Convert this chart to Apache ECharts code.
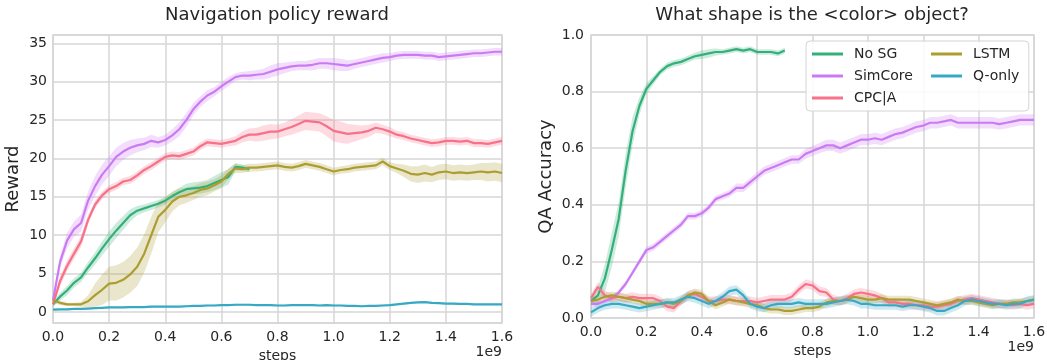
<!DOCTYPE html>
<html>
<head>
<meta charset="utf-8">
<script src="https://cdn.jsdelivr.net/npm/echarts@6/dist/echarts.min.js"></script>
<style>
  html, body { margin: 0; padding: 0; background: #fff; }
  #main { width: 1047px; height: 360px; }
</style>
</head>
<body>
<div id="main"></div>
<script>
// x positions, in units of 1e9 steps (one sample every 0.025)
const steps = Array.from({length: 65}, (_, i) => +(i * 0.025).toFixed(3));
const stepsNoSG = steps.slice(0, 29); // No SG run stops at ~0.7e9

const xTicks = ['0.0', '0.2', '0.4', '0.6', '0.8', '1.0', '1.2', '1.4', '1.6'];

// ---- left: Navigation policy reward ----
const navSimCore = [
  1.5, 6.5, 9.3, 10.8, 11.6, 14.5, 16.4, 17.9, 19.0, 20.2,
  20.9, 21.4, 21.7, 21.9, 22.3, 22.1, 22.4, 23.0, 23.8, 25.0,
  26.4, 27.4, 28.2, 28.7, 29.4, 30.0, 30.6, 30.8, 30.8, 30.9,
  31.0, 31.3, 31.6, 31.8, 32.0, 32.1, 32.1, 32.2, 32.4, 32.4,
  32.3, 32.2, 32.1, 32.3, 32.5, 32.7, 32.9, 33.1, 33.2, 33.4,
  33.5, 33.5, 33.5, 33.4, 33.4, 33.2, 33.3, 33.4, 33.5, 33.6,
  33.7, 33.7, 33.8, 33.9, 33.9
];
const navSimCoreBand = [
  0.5, 0.8, 1.0, 1.0, 1.1, 1.2, 1.3, 1.3, 1.3, 1.2,
  1.1, 1.0, 0.9, 0.8, 0.8, 0.7, 0.7, 0.8, 0.9, 0.9,
  0.8, 0.7, 0.7, 0.6, 0.6, 0.6, 0.5, 0.5, 0.6, 0.6,
  0.7, 0.8, 0.8, 0.7, 0.6, 0.6, 0.6, 0.7, 0.7, 0.7,
  0.8, 0.8, 0.7, 0.6, 0.6, 0.6, 0.6, 0.6, 0.5, 0.5,
  0.5, 0.5, 0.5, 0.5, 0.5, 0.5, 0.5, 0.5, 0.5, 0.5,
  0.5, 0.5, 0.5, 0.5, 0.5
];
const navCPC = [
  1.0, 4.0, 6.0, 7.6, 9.2, 12.0, 14.0, 15.2, 16.0, 16.4,
  17.0, 17.2, 17.8, 18.5, 19.0, 19.6, 20.2, 20.4, 20.3, 20.6,
  20.9, 21.6, 22.1, 22.0, 21.9, 22.1, 22.3, 22.8, 23.1, 23.1,
  23.3, 23.5, 23.5, 23.8, 24.1, 24.5, 24.9, 24.8, 24.7, 24.2,
  23.6, 23.4, 23.2, 23.3, 23.4, 23.6, 24.0, 23.8, 23.5, 23.1,
  22.9, 22.6, 22.4, 22.2, 22.0, 22.1, 22.3, 22.3, 22.2, 22.3,
  22.0, 22.0, 21.9, 22.1, 22.3
];
const navCPCBand = [
  0.4, 0.6, 0.7, 0.7, 0.7, 0.6, 0.5, 0.5, 0.5, 0.5,
  0.5, 0.5, 0.5, 0.5, 0.5, 0.5, 0.5, 0.5, 0.5, 0.5,
  0.5, 0.5, 0.5, 0.5, 0.5, 0.5, 0.6, 0.7, 0.8, 0.9,
  1.0, 1.0, 0.9, 0.9, 1.0, 1.1, 1.2, 1.2, 1.2, 1.3,
  1.4, 1.4, 1.3, 1.1, 0.9, 0.8, 0.7, 0.6, 0.6, 0.5,
  0.5, 0.5, 0.5, 0.5, 0.5, 0.5, 0.5, 0.5, 0.5, 0.5,
  0.5, 0.5, 0.5, 0.5, 0.5
];
const navNoSG = [
  1.0, 2.0, 2.8, 3.8, 4.5, 5.8, 7.0, 8.3, 9.5, 10.6,
  11.6, 12.6, 13.2, 13.5, 13.8, 14.1, 14.5, 15.1, 15.6, 16.0,
  16.1, 16.2, 16.4, 16.8, 17.2, 17.6, 18.9, 18.8, 18.6
];
const navNoSGBand = [
  0.3, 0.5, 0.6, 0.6, 0.6, 0.7, 0.8, 0.9, 1.0, 1.0,
  0.9, 0.8, 0.6, 0.5, 0.5, 0.5, 0.5, 0.5, 0.6, 0.7,
  0.8, 0.8, 0.8, 0.9, 1.0, 1.0, 0.5, 0.4, 0.4
];
const navLSTM = [
  1.5, 1.2, 1.0, 1.0, 1.0, 1.4, 2.2, 2.9, 3.7, 3.8,
  4.2, 4.9, 5.9, 7.6, 10.0, 12.4, 13.3, 14.4, 15.0, 15.2,
  15.5, 15.9, 16.1, 16.5, 17.0, 18.0, 18.7, 18.6, 18.8, 18.8,
  18.9, 19.0, 19.1, 18.9, 18.8, 19.0, 19.3, 19.1, 18.9, 18.6,
  18.3, 18.5, 18.6, 18.8, 18.9, 19.0, 19.1, 19.6, 19.0, 18.7,
  18.4, 18.0, 17.9, 18.1, 17.9, 18.2, 18.3, 18.1, 18.2, 18.1,
  18.2, 18.3, 18.2, 18.3, 18.1
];
const navLSTMBand = [
  0.3, 0.3, 0.2, 0.2, 0.3, 0.8, 1.5, 2.0, 2.2, 2.3,
  2.3, 2.4, 2.5, 2.5, 2.4, 2.0, 1.6, 1.3, 1.1, 1.0,
  0.9, 0.9, 0.9, 0.8, 0.8, 0.7, 0.6, 0.5, 0.5, 0.5,
  0.5, 0.5, 0.5, 0.5, 0.5, 0.5, 0.5, 0.5, 0.5, 0.5,
  0.5, 0.5, 0.5, 0.5, 0.5, 0.5, 0.5, 0.5, 0.5, 0.6,
  0.8, 1.0, 1.1, 1.1, 1.0, 1.0, 1.0, 1.0, 1.0, 1.0,
  1.0, 1.1, 1.2, 1.2, 1.2
];
const navQOnly = [
  0.3, 0.35, 0.35, 0.4, 0.4, 0.45, 0.5, 0.55, 0.6, 0.6,
  0.6, 0.65, 0.65, 0.65, 0.7, 0.7, 0.7, 0.7, 0.7, 0.75,
  0.8, 0.8, 0.85, 0.85, 0.9, 0.9, 0.95, 0.95, 0.95, 0.9,
  0.9, 0.9, 0.85, 0.85, 0.9, 0.9, 0.9, 0.9, 0.85, 0.9,
  0.85, 0.85, 0.8, 0.8, 0.75, 0.8, 0.8, 0.85, 0.9, 1.0,
  1.1, 1.2, 1.25, 1.3, 1.2, 1.15, 1.1, 1.1, 1.05, 1.05,
  1.0, 1.0, 1.0, 1.0, 1.0
];
const navQOnlyBand = 0.12;

// ---- right: What shape is the <color> object? ----
const qaNoSG = [
  0.06, 0.08, 0.14, 0.24, 0.35, 0.52, 0.66, 0.75, 0.81, 0.84,
  0.87, 0.89, 0.90, 0.905, 0.915, 0.925, 0.93, 0.935, 0.94, 0.94,
  0.945, 0.95, 0.945, 0.95, 0.94, 0.94, 0.94, 0.935, 0.945
];
const qaNoSGBand = [
  0.01, 0.03, 0.05, 0.06, 0.06, 0.06, 0.05, 0.03, 0.02, 0.015,
  0.012, 0.012, 0.012, 0.012, 0.012, 0.012, 0.015, 0.015, 0.012, 0.01,
  0.01, 0.01, 0.01, 0.01, 0.01, 0.01, 0.01, 0.01, 0.01
];
const qaSimCore = [
  0.05, 0.05, 0.06, 0.07, 0.09, 0.12, 0.16, 0.20, 0.24, 0.25,
  0.27, 0.29, 0.31, 0.33, 0.36, 0.36, 0.37, 0.39, 0.42, 0.43,
  0.44, 0.46, 0.46, 0.48, 0.50, 0.52, 0.53, 0.54, 0.55, 0.56,
  0.56, 0.58, 0.59, 0.60, 0.61, 0.61, 0.60, 0.61, 0.62, 0.63,
  0.63, 0.635, 0.63, 0.64, 0.65, 0.655, 0.665, 0.675, 0.68, 0.69,
  0.69, 0.695, 0.70, 0.69, 0.69, 0.69, 0.69, 0.69, 0.69, 0.685,
  0.69, 0.695, 0.70, 0.70, 0.70
];
const qaSimCoreBand = [
  0.01, 0.01, 0.01, 0.01, 0.01, 0.01, 0.01, 0.01, 0.012, 0.012,
  0.012, 0.012, 0.012, 0.012, 0.012, 0.012, 0.012, 0.012, 0.012, 0.012,
  0.012, 0.015, 0.015, 0.015, 0.015, 0.015, 0.015, 0.015, 0.015, 0.015,
  0.015, 0.018, 0.018, 0.018, 0.02, 0.02, 0.02, 0.02, 0.02, 0.02,
  0.02, 0.02, 0.02, 0.02, 0.02, 0.02, 0.02, 0.02, 0.02, 0.02,
  0.02, 0.02, 0.02, 0.02, 0.02, 0.02, 0.02, 0.02, 0.02, 0.02,
  0.02, 0.02, 0.02, 0.02, 0.02
];
const qaCPC = [
  0.07, 0.11, 0.08, 0.07, 0.075, 0.07, 0.075, 0.07, 0.07, 0.07,
  0.06, 0.04, 0.035, 0.06, 0.08, 0.085, 0.075, 0.06, 0.06, 0.065,
  0.065, 0.06, 0.06, 0.06, 0.055, 0.06, 0.065, 0.065, 0.065, 0.075,
  0.10, 0.12, 0.115, 0.095, 0.09, 0.065, 0.06, 0.07, 0.085, 0.09,
  0.085, 0.08, 0.07, 0.055, 0.055, 0.05, 0.05, 0.045, 0.045, 0.04,
  0.04, 0.045, 0.05, 0.06, 0.065, 0.07, 0.065, 0.06, 0.055, 0.05,
  0.05, 0.045, 0.05, 0.045, 0.05
];
const qaLSTM = [
  0.06, 0.065, 0.075, 0.08, 0.075, 0.07, 0.065, 0.06, 0.05, 0.05,
  0.05, 0.055, 0.05, 0.06, 0.08, 0.09, 0.085, 0.06, 0.045, 0.055,
  0.065, 0.06, 0.055, 0.05, 0.045, 0.035, 0.03, 0.03, 0.025, 0.025,
  0.03, 0.035, 0.035, 0.04, 0.055, 0.06, 0.06, 0.065, 0.075, 0.07,
  0.065, 0.065, 0.07, 0.065, 0.065, 0.065, 0.065, 0.06, 0.055, 0.05,
  0.045, 0.05, 0.055, 0.065, 0.06, 0.06, 0.055, 0.05, 0.045, 0.05,
  0.05, 0.055, 0.055, 0.06, 0.065
];
const qaQOnly = [
  0.02, 0.035, 0.045, 0.05, 0.05, 0.045, 0.04, 0.035, 0.04, 0.045,
  0.05, 0.055, 0.055, 0.065, 0.075, 0.07, 0.06, 0.05, 0.06, 0.075,
  0.095, 0.10, 0.08, 0.05, 0.04, 0.035, 0.045, 0.05, 0.05, 0.05,
  0.055, 0.05, 0.05, 0.05, 0.05, 0.055, 0.06, 0.065, 0.06, 0.05,
  0.05, 0.045, 0.045, 0.045, 0.045, 0.04, 0.045, 0.045, 0.04, 0.035,
  0.025, 0.025, 0.035, 0.045, 0.06, 0.065, 0.06, 0.055, 0.05, 0.05,
  0.045, 0.05, 0.05, 0.06, 0.065
];
const qaCPCBand = 0.016;
const qaLSTMBand = 0.014;
const qaQOnlyBand = 0.016;

const colors = {
  'No SG': '#33b07a',
  'SimCore': '#cc7af4',
  'CPC|A': '#f77189',
  'LSTM': '#ad9d31',
  'Q-only': '#38a9c5'
};

const textColor = '#262626';
const gridColor = '#d6d6d6';
const font = 'DejaVu Sans';

const chart = echarts.init(document.getElementById('main'), null, {renderer: 'canvas'});

const bands = [];
const lines = [];

// shaded band: one polygon (upper edge, then lower edge backwards) through the axis scales
const addSeries = (name, axis, xs, mean, band) => {
  const w = i => (Array.isArray(band) ? band[i] : band);
  const color = colors[name];
  const rows = mean.map((v, i) => [xs[i], v - w(i), v + w(i)]);
  bands.push({
    type: 'custom', xAxisIndex: axis, yAxisIndex: axis,
    silent: true, z: 1, clip: true,
    encode: {x: 0, y: [1, 2]},
    data: rows,
    renderItem: (params, api) => {
      if (params.dataIndex !== 0) return null;
      const top = rows.map(r => api.coord([r[0], r[2]]));
      const bottom = rows.map(r => api.coord([r[0], r[1]])).reverse();
      return {
        type: 'polygon',
        shape: {points: top.concat(bottom)},
        style: {fill: color, opacity: 0.25}
      };
    }
  });
  lines.push({
    name: name, type: 'line', xAxisIndex: axis, yAxisIndex: axis,
    symbol: 'none', z: 3,
    lineStyle: {color: color, width: 2.2},
    itemStyle: {color: color},
    data: mean.map((v, i) => [xs[i], v])
  });
};

// left chart
addSeries('No SG', 0, stepsNoSG, navNoSG, navNoSGBand);
addSeries('SimCore', 0, steps, navSimCore, navSimCoreBand);
addSeries('CPC|A', 0, steps, navCPC, navCPCBand);
addSeries('LSTM', 0, steps, navLSTM, navLSTMBand);
addSeries('Q-only', 0, steps, navQOnly, navQOnlyBand);
// right chart
addSeries('No SG', 1, stepsNoSG, qaNoSG, qaNoSGBand);
addSeries('SimCore', 1, steps, qaSimCore, qaSimCoreBand);
addSeries('CPC|A', 1, steps, qaCPC, qaCPCBand);
addSeries('LSTM', 1, steps, qaLSTM, qaLSTMBand);
addSeries('Q-only', 1, steps, qaQOnly, qaQOnlyBand);

const xAxisBase = (gridIndex) => ({
  type: 'value', gridIndex: gridIndex, min: 0, max: 1.6, interval: 0.2,
  name: 'steps', nameLocation: 'middle', nameGap: 23,
  nameTextStyle: {fontFamily: font, fontSize: 14, color: textColor},
  axisLine: {show: false}, axisTick: {show: false},
  axisLabel: {
    fontFamily: font, fontSize: 14, color: textColor, margin: 7,
    formatter: v => xTicks[Math.round(v / 0.2)]
  },
  splitLine: {show: true, lineStyle: {color: gridColor, width: 1.5}}
});

const option = {
  animation: false,
  backgroundColor: '#ffffff',
  grid: [
    {left: 53, top: 35, width: 449, height: 288, show: true, outerBoundsMode: 'none',
     borderColor: gridColor, borderWidth: 1.5, backgroundColor: '#fff'},
    {left: 591, top: 35, width: 443, height: 283, show: true, outerBoundsMode: 'none',
     borderColor: gridColor, borderWidth: 1.5, backgroundColor: '#fff'}
  ],
  xAxis: [xAxisBase(0), xAxisBase(1)],
  yAxis: [
    {
      type: 'value', gridIndex: 0, min: -1.43, max: 36.08, splitNumber: 8,
      name: 'Reward', nameLocation: 'middle', nameGap: 31,
      nameTextStyle: {fontFamily: font, fontSize: 18, color: textColor},
      axisLine: {show: false}, axisTick: {show: false},
      axisLabel: {fontFamily: font, fontSize: 14, color: textColor, margin: 6,
                  showMinLabel: false, showMaxLabel: false},
      splitLine: {show: true, lineStyle: {color: gridColor, width: 1.5}}
    },
    {
      type: 'value', gridIndex: 1, min: 0, max: 1, interval: 0.2,
      name: 'QA Accuracy', nameLocation: 'middle', nameGap: 36,
      nameTextStyle: {fontFamily: font, fontSize: 18, color: textColor},
      axisLine: {show: false}, axisTick: {show: false},
      axisLabel: {fontFamily: font, fontSize: 14, color: textColor, margin: 7,
                  formatter: v => v.toFixed(1)},
      splitLine: {show: true, lineStyle: {color: gridColor, width: 1.5}}
    }
  ],
  legend: [
    {
      data: ['No SG', 'SimCore', 'CPC|A'],
      orient: 'vertical', left: 806, top: 41,
      icon: 'rect', itemWidth: 31, itemHeight: 3, itemGap: 8,
      padding: [6, 116, 6, 6],
      backgroundColor: 'rgba(255,255,255,0.85)',
      borderColor: '#d4d4d4', borderWidth: 1, borderRadius: 4,
      textStyle: {fontFamily: font, fontSize: 14, color: textColor, padding: [0, 0, 0, 6]},
      selectedMode: false
    },
    {
      data: ['LSTM', 'Q-only'],
      orient: 'vertical', left: 925, top: 41,
      icon: 'rect', itemWidth: 31, itemHeight: 3, itemGap: 8,
      padding: [6, 6, 6, 6],
      textStyle: {fontFamily: font, fontSize: 14, color: textColor, padding: [0, 0, 0, 6]},
      selectedMode: false
    }
  ],
  graphic: [
    {type: 'text', x: 277, y: 15, z: 10,
     style: {text: 'Navigation policy reward', font: '18px "DejaVu Sans"', fill: textColor,
             textAlign: 'center', textVerticalAlign: 'middle', align: 'center', verticalAlign: 'middle'}},
    {type: 'text', x: 812, y: 15, z: 10,
     style: {text: 'What shape is the <color> object?', font: '18px "DejaVu Sans"', fill: textColor,
             textAlign: 'center', textVerticalAlign: 'middle', align: 'center', verticalAlign: 'middle'}},
    {type: 'text', x: 502, y: 345, z: 10,
     style: {text: '1e9', font: '14px "DejaVu Sans"', fill: textColor,
             textAlign: 'right', textVerticalAlign: 'top', align: 'right', verticalAlign: 'top'}},
    {type: 'text', x: 1034, y: 340, z: 10,
     style: {text: '1e9', font: '14px "DejaVu Sans"', fill: textColor,
             textAlign: 'right', textVerticalAlign: 'top', align: 'right', verticalAlign: 'top'}}
  ],
  series: bands.concat(lines)
};

chart.setOption(option);
</script>
</body>
</html>
